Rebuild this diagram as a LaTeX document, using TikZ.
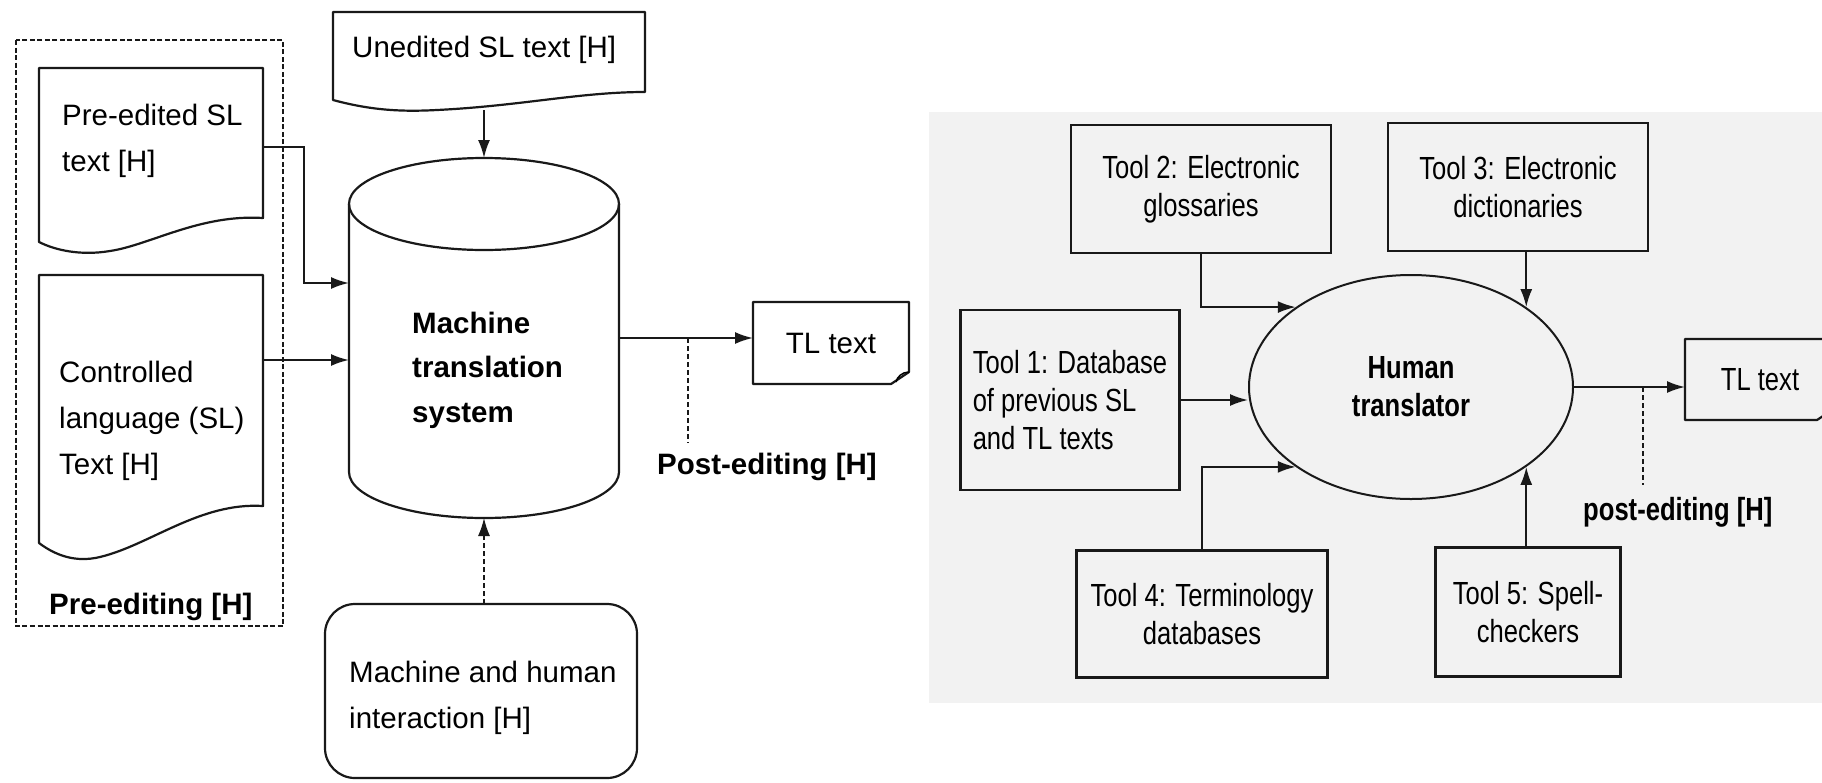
\documentclass[tikz,border=0pt]{standalone}
\usepackage{fontspec}
\setmainfont{Liberation Sans}
\newfontfamily\narrowfont[FakeStretch=0.8]{Liberation Sans}
\usetikzlibrary{arrows.meta,shapes.geometric,calc}
\begin{document}
\begin{tikzpicture}[x=1pt,y=-1pt,
  ltext/.style={font=\fontsize{29.5}{46}\selectfont, inner sep=0pt, align=left},
  lbold/.style={font=\bfseries\fontsize{29.5}{44.5}\selectfont, inner sep=0pt, align=left},
  rtext/.style={font=\narrowfont\fontsize{32}{38}\selectfont, align=center, inner sep=0pt},
  rbold/.style={font=\narrowfont\bfseries\fontsize{32}{38}\selectfont, align=center, inner sep=0pt},
  holder/.style={inner sep=0pt, outer sep=0pt},
  frame/.style={draw=black!90, line width=2.2pt},
  outline/.style={draw=black!90, line width=2.2pt, line join=round},
  conn/.style={draw=black!90, line width=2pt, -{Latex[length=18pt,width=12pt]}},
  dashconn/.style={draw=black!90, line width=1.4pt, dash pattern=on 5pt off 3pt},
  grp/.style={draw=black!90, line width=1.5pt, dash pattern=on 5pt off 2.5pt},
]
\useasboundingbox (0,0) rectangle (1822,782);
\clip (0,0) rectangle (1822,782);
\fill[white] (0,0) rectangle (1822,782);
\fill[black!5] (929,112) rectangle (1822,703);

% ---------------- left diagram ----------------
% pre-editing group
\node[holder, minimum width=267pt, minimum height=586pt] (grp) at (149.5,333) {};
\draw[grp] (grp.north west) rectangle (grp.south east);

% pre-edited SL text (document)
\node[holder, minimum width=224pt, minimum height=150pt] (pre) at (151,143) {};
\draw[outline] (pre.south east) .. controls (200,214) and (150,245) .. (110,251)
  .. controls (80,256) and (55,250) .. (39,242) -- (pre.north west) -- (pre.north east) -- cycle;
\node[ltext, anchor=west] (pretxt) at (62,141) {Pre-edited SL\\text [H]};

% controlled language text (document)
\node[holder, minimum width=224pt, minimum height=231pt] (cl) at (151,390.5) {};
\draw[outline] (cl.south east) .. controls (200,502) and (150,545) .. (100,557)
  .. controls (75,563) and (55,555) .. (39,543) -- (cl.north west) -- (cl.north east) -- cycle;
\node[ltext, anchor=west] (cltxt) at (59,421) {Controlled\\language (SL)\\Text [H]};
\node[lbold, anchor=base west] (prelabel) at (49,614) {Pre-editing [H]};

% unedited SL text (document)
\node[holder, minimum width=312pt, minimum height=80pt] (ued) at (489,52) {};
\draw[outline] (ued.south east) .. controls (580,92) and (520,106) .. (437,110)
  .. controls (400,112) and (370,110) .. (333,100) -- (ued.north west) -- (ued.north east) -- cycle;
\node[ltext, anchor=base west] (uedtxt) at (352,57) {Unedited SL text [H]};

% machine translation system (cylinder)
\node[holder, minimum width=270pt, minimum height=360pt] (mts) at (484,338) {};
\draw[outline] (484,204) ellipse [x radius=135pt, y radius=46pt];
\draw[outline] (349,204) -- (349,472) arc[start angle=180, end angle=360, x radius=135pt, y radius=46pt] -- (619,204);
\node[lbold, anchor=west] (mtstxt) at (412,370) {Machine\\translation\\system};

% TL text (left)
\node[holder, ltext, minimum width=156pt, minimum height=82pt] (tl1) at (831,343) {TL text};
\draw[outline] (tl1.north west) -- (tl1.north east) -- (909,372) -- (891,384) -- (tl1.south west) -- cycle;
\draw[line width=1.5pt] (909,372) .. controls (902,372) and (897,377) .. (896,382);

% post-editing label
\node[lbold, anchor=base west] (pel1) at (657,474) {Post-editing [H]};

% machine and human interaction
\node[holder, draw=black!90, line width=2.2pt, rounded corners=30pt, minimum width=312pt, minimum height=174pt] (mhi) at (481,691) {};
\node[ltext, anchor=west] (mhitxt) at (349,698) {Machine and human\\interaction [H]};

% connectors (left)
\draw[conn] ($(pre.east)+(0,4)$) -- ++(41,0) |- ($(mts.west)+(0,-55)$);
\draw[conn] ($(cl.north east)+(0,85)$) -- ($(mts.west)+(0,22)$);
\draw[conn] ($(ued.south -| mts.north)+(0,18)$) -- (mts.north);
\draw[conn] (mts.east) -- (mts.east -| tl1.west);
\coordinate (j1) at ($(mts.east)+(69,0)$);
\draw[dashconn] (j1) -- ($(j1 |- pel1.north)+(0,-10)$);
\draw[dashconn, -{Latex[length=18pt,width=12pt]}] (mts.south |- mhi.north) -- (mts.south);

% ---------------- right diagram ----------------
\node[frame, rtext, minimum width=260pt, minimum height=128pt] (t2) at (1201,189) {Tool 2: Electronic\\glossaries};
\node[frame, rtext, minimum width=260pt, minimum height=128pt] (t3) at (1518,187) {Tool 3: Electronic\\dictionaries};
\node[frame, rtext, align=left, minimum width=219pt, minimum height=180pt] (t1) at (1070,400) {Tool 1: Database\\of previous SL\\and TL texts};
\node[frame, rtext, minimum width=251pt, minimum height=127pt] (t4) at (1202,614) {Tool 4: Terminology\\databases};
\node[frame, rtext, minimum width=185pt, minimum height=129pt] (t5) at (1528,612) {Tool 5: Spell-\\checkers};
\node[ellipse, draw=black!90, line width=2pt, rbold, minimum width=324pt, minimum height=224pt] (ht) at (1411,387) {Human\\translator};

% TL text (right)
\node[holder, rtext, minimum width=150pt, minimum height=81pt] (tl2) at (1760,379.5) {TL text};
\draw[outline] (tl2.north west) -- (tl2.north east) -- (1835,408) -- (1817,420) -- (tl2.south west) -- cycle;
\draw[line width=1.5pt] (1835,408) .. controls (1828,408) and (1823,413) .. (1822,418);

\node[rbold, anchor=base west] (pel2) at (1583,520) {post-editing [H]};

% connectors (right)
\draw[conn] (t1.east) -- (t1.east -| ht.west);
\draw[conn] (t2.south) |- (ht.north west);
\draw[conn] (ht.north east |- t3.south) -- (ht.north east);
\draw[conn] (t4.north) |- (ht.south west);
\draw[conn] (ht.south east |- t5.north) -- (ht.south east);
\draw[conn] (ht.east) -- (ht.east -| tl2.west);
\coordinate (j2) at ($(ht.east)+(69,0)$);
\draw[dashconn] (j2) -- ($(j2 |- pel2.north)+(0,-12)$);
\end{tikzpicture}
\end{document}
